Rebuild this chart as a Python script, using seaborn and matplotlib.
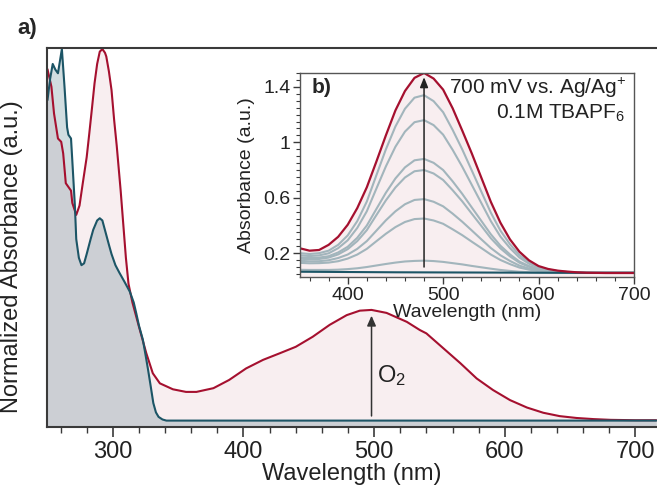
import numpy as np
import matplotlib
matplotlib.use("Agg")
import matplotlib.pyplot as plt
from matplotlib.ticker import MultipleLocator
import seaborn as sns

# ---- main panel a): normalized spectra ----
wl_teal = [250, 252, 254, 256, 258, 261, 263, 264, 265, 266, 268, 269, 271, 272,
           274, 276, 278, 280, 283, 285, 288, 290, 292, 294, 297, 299, 302, 305,
           309, 313, 316, 318, 320, 323, 325, 327, 329, 331, 333, 335, 338, 341,
           360, 400, 450, 500, 550, 600, 650, 700, 716]
abs_teal = [0.863, 0.92, 0.96, 0.945, 0.935, 1.0, 0.90, 0.845, 0.79, 0.77, 0.76, 0.70, 0.577, 0.49,
            0.44, 0.42, 0.425, 0.45, 0.49, 0.515, 0.54, 0.546, 0.54, 0.514, 0.475, 0.45, 0.42, 0.40,
            0.375, 0.349, 0.32, 0.29, 0.258, 0.22, 0.18, 0.139, 0.095, 0.05, 0.025, 0.013, 0.006, 0.003,
            0.003, 0.003, 0.003, 0.003, 0.003, 0.003, 0.003, 0.003, 0.003]

wl_red = [250, 253, 255, 258, 260.5, 262, 264, 266, 268, 269, 272, 274.5, 277, 280,
          282, 284, 286, 288, 290, 292, 294, 295, 297, 299, 301, 303, 306, 308, 310,
          312, 315, 320, 325.6, 330.6, 336, 346, 356, 364, 377, 389, 402, 415, 428,
          440, 453, 466, 479, 489, 498, 509.5, 525, 535, 540, 553, 566, 578.5, 591,
          604, 617, 629.5, 642, 655, 668, 681, 700, 716]
abs_red = [0.946, 0.899, 0.827, 0.76, 0.751, 0.72, 0.64, 0.63, 0.62, 0.587, 0.555, 0.58, 0.64, 0.71,
           0.774, 0.84, 0.908, 0.96, 0.993, 1.0, 0.99, 0.98, 0.94, 0.89, 0.81, 0.74, 0.62, 0.53, 0.44,
           0.37, 0.32, 0.255, 0.184, 0.13, 0.103, 0.087, 0.08, 0.08, 0.09, 0.112, 0.143, 0.166, 0.184,
           0.201, 0.228, 0.26, 0.286, 0.298, 0.30, 0.292, 0.268, 0.246, 0.237, 0.197, 0.157, 0.116, 0.085,
           0.058, 0.038, 0.024, 0.015, 0.01, 0.007, 0.005, 0.004, 0.004]

# ---- inset b): spectroelectrochemistry ----
wl_b = list(range(350, 701, 10))
abs_b_final = [0.235, 0.218, 0.223, 0.26, 0.318, 0.405, 0.525, 0.675, 0.86, 1.05, 1.23, 1.37,
               1.465, 1.50, 1.46, 1.38, 1.245, 1.085, 0.92, 0.745, 0.57, 0.42, 0.30, 0.21,
               0.148, 0.107, 0.086, 0.074, 0.067, 0.062, 0.059, 0.058, 0.057, 0.057, 0.057, 0.057]
abs_b_steps = [
    [0.200, 0.194, 0.200, 0.218, 0.260, 0.328, 0.431, 0.572, 0.761, 0.949, 1.114, 1.242,
     1.322, 1.340, 1.297, 1.217, 1.089, 0.949, 0.797, 0.644, 0.492, 0.363, 0.265, 0.186,
     0.135, 0.101, 0.082, 0.071, 0.065, 0.062, 0.058, 0.058, 0.058, 0.058, 0.058, 0.058],
    [0.185, 0.179, 0.184, 0.199, 0.236, 0.293, 0.382, 0.502, 0.665, 0.826, 0.968, 1.077,
     1.145, 1.160, 1.124, 1.055, 0.945, 0.824, 0.693, 0.562, 0.431, 0.320, 0.237, 0.168,
     0.124, 0.095, 0.079, 0.070, 0.064, 0.061, 0.058, 0.058, 0.058, 0.058, 0.058, 0.058],
    [0.170, 0.165, 0.168, 0.178, 0.205, 0.246, 0.311, 0.399, 0.518, 0.636, 0.739, 0.819,
     0.870, 0.880, 0.852, 0.800, 0.718, 0.628, 0.530, 0.433, 0.336, 0.254, 0.191, 0.139,
     0.107, 0.085, 0.073, 0.067, 0.063, 0.060, 0.058, 0.058, 0.058, 0.058, 0.058, 0.058],
    [0.160, 0.156, 0.158, 0.168, 0.191, 0.229, 0.287, 0.366, 0.474, 0.581, 0.674, 0.746,
     0.791, 0.800, 0.775, 0.728, 0.654, 0.574, 0.485, 0.397, 0.308, 0.235, 0.177, 0.131,
     0.102, 0.082, 0.072, 0.066, 0.062, 0.060, 0.058, 0.058, 0.058, 0.058, 0.058, 0.058],
    [0.145, 0.141, 0.142, 0.149, 0.165, 0.190, 0.231, 0.287, 0.362, 0.437, 0.502, 0.553,
     0.584, 0.590, 0.571, 0.538, 0.485, 0.427, 0.364, 0.300, 0.237, 0.185, 0.144, 0.110,
     0.089, 0.075, 0.068, 0.063, 0.061, 0.059, 0.058, 0.058, 0.058, 0.058, 0.058, 0.058],
    [0.130, 0.127, 0.128, 0.132, 0.142, 0.161, 0.190, 0.231, 0.286, 0.340, 0.388, 0.425,
     0.446, 0.450, 0.436, 0.412, 0.372, 0.330, 0.283, 0.237, 0.190, 0.151, 0.121, 0.096,
     0.081, 0.071, 0.065, 0.062, 0.060, 0.059, 0.058, 0.058, 0.058, 0.058, 0.058, 0.058],
    [0.080, 0.079, 0.079, 0.079, 0.081, 0.085, 0.091, 0.100, 0.111, 0.122, 0.132, 0.140,
     0.144, 0.146, 0.143, 0.137, 0.128, 0.119, 0.108, 0.098, 0.088, 0.079, 0.072, 0.066,
     0.063, 0.061, 0.060, 0.059, 0.058, 0.058, 0.058, 0.058, 0.058, 0.058, 0.058, 0.058],
]
wl_b_base = [350, 400, 450, 500, 550, 600, 650, 700]
abs_b_base = [0.066, 0.064, 0.062, 0.061, 0.060, 0.059, 0.058, 0.058]

RED = "#a5102f"
TEAL = "#1c5566"
GRAY = "#a2b5bc"
SPINE = "#3a3a3a"

sns.set_theme(style="ticks")
plt.rcParams['font.family'] = ['Liberation Sans', 'DejaVu Sans']
plt.rcParams['mathtext.fontset'] = 'custom'
plt.rcParams['mathtext.rm'] = 'Liberation Sans'
plt.rcParams['mathtext.it'] = 'Liberation Sans:italic'
plt.rcParams['mathtext.bf'] = 'Liberation Sans:bold'

fig = plt.figure(figsize=(6.57, 4.87), dpi=100)
ax = fig.add_axes([0.0715, 0.1238, 0.9285, 0.777])

ax.fill_between(wl_red, abs_red, -0.02, color=RED, alpha=0.07, lw=0)
ax.fill_between(wl_teal, abs_teal, -0.02, color=TEAL, alpha=0.2, lw=0)
sns.lineplot(x=wl_red, y=abs_red, ax=ax, color=RED, lw=1.5)
sns.lineplot(x=wl_teal, y=abs_teal, ax=ax, color=TEAL, lw=1.5)

ax.annotate("", xy=(498, 0.292), xytext=(498, 0.008),
            arrowprops=dict(arrowstyle="-|>,head_length=0.5,head_width=0.22", color="#333333", lw=1.1))
ax.text(502.5, 0.123, "O$_2$", fontsize=17, ha="left", va="center", color="#222222")

ax.set_xlim(249.6, 716.5)
ax.set_ylim(-0.0134, 1.002)
ax.set_yticks([])
ax.xaxis.set_major_locator(MultipleLocator(100))
ax.xaxis.set_minor_locator(MultipleLocator(20))
ax.tick_params(axis="x", which="major", direction="out", length=7, width=1.2,
               labelsize=17, pad=3, color=SPINE, labelcolor="#222222")
ax.tick_params(axis="x", which="minor", direction="out", length=4, width=1.0, color=SPINE)
for side in ["left", "bottom", "top"]:
    ax.spines[side].set_color(SPINE)
    ax.spines[side].set_linewidth(1.5)
ax.spines["right"].set_visible(False)
ax.set_xlabel("Wavelength (nm)", fontsize=17, labelpad=0, color="#222222")
ax.set_ylabel("Normalized Absorbance (a.u.)", fontsize=17, color="#222222")
ax.yaxis.set_label_coords(-0.04, 0.45)

fig.text(0.027, 0.941, "a)", fontsize=16, fontweight="bold", va="center", ha="left")

# ---- inset ----
axi = fig.add_axes([0.4566, 0.4312, 0.5084, 0.4189])
axi.fill_between(wl_b, abs_b_final, 0.0, color=RED, alpha=0.07, lw=0)
for vals in abs_b_steps:
    sns.lineplot(x=wl_b, y=vals, ax=axi, color=GRAY, lw=1.5)
sns.lineplot(x=wl_b_base, y=abs_b_base, ax=axi, color=TEAL, lw=1.5)
sns.lineplot(x=wl_b, y=abs_b_final, ax=axi, color=RED, lw=1.6)
axi.annotate("", xy=(480, 1.49), xytext=(480, 0.08),
             arrowprops=dict(arrowstyle="-|>,head_length=0.5,head_width=0.2", color="#222222", lw=1.1))

axi.set_xlim(350, 700)
axi.set_ylim(0.028, 1.5)
axi.set_xticks([400, 500, 600, 700])
axi.xaxis.set_minor_locator(MultipleLocator(20))
axi.set_yticks([0.2, 0.6, 1.0, 1.4])
axi.set_yticklabels(["0.2", "0.6", "1", "1.4"])
axi.yaxis.set_minor_locator(MultipleLocator(0.05))
axi.tick_params(which="major", direction="out", length=5, width=1.0, labelsize=14, pad=2,
                color=SPINE, labelcolor="#222222")
axi.tick_params(which="minor", direction="out", length=3, width=0.8, color=SPINE)
for side in axi.spines:
    axi.spines[side].set_color("#555555")
    axi.spines[side].set_linewidth(1.0)
axi.set_xlabel("Wavelength (nm)", fontsize=14, labelpad=0, color="#222222")
axi.set_ylabel("Absorbance (a.u.)", fontsize=14, labelpad=6, color="#222222")

axi.text(0.035, 0.93, "b)", transform=axi.transAxes, fontsize=15, fontweight="bold",
         ha="left", va="center")
axi.text(0.975, 0.925, "700 mV vs. Ag/Ag$^{+}$", transform=axi.transAxes, fontsize=15,
         ha="right", va="center", color="#222222")
axi.text(0.975, 0.80, "0.1M TBAPF$_6$", transform=axi.transAxes, fontsize=15,
         ha="right", va="center", color="#222222")

fig.savefig("out.png", dpi=100)
